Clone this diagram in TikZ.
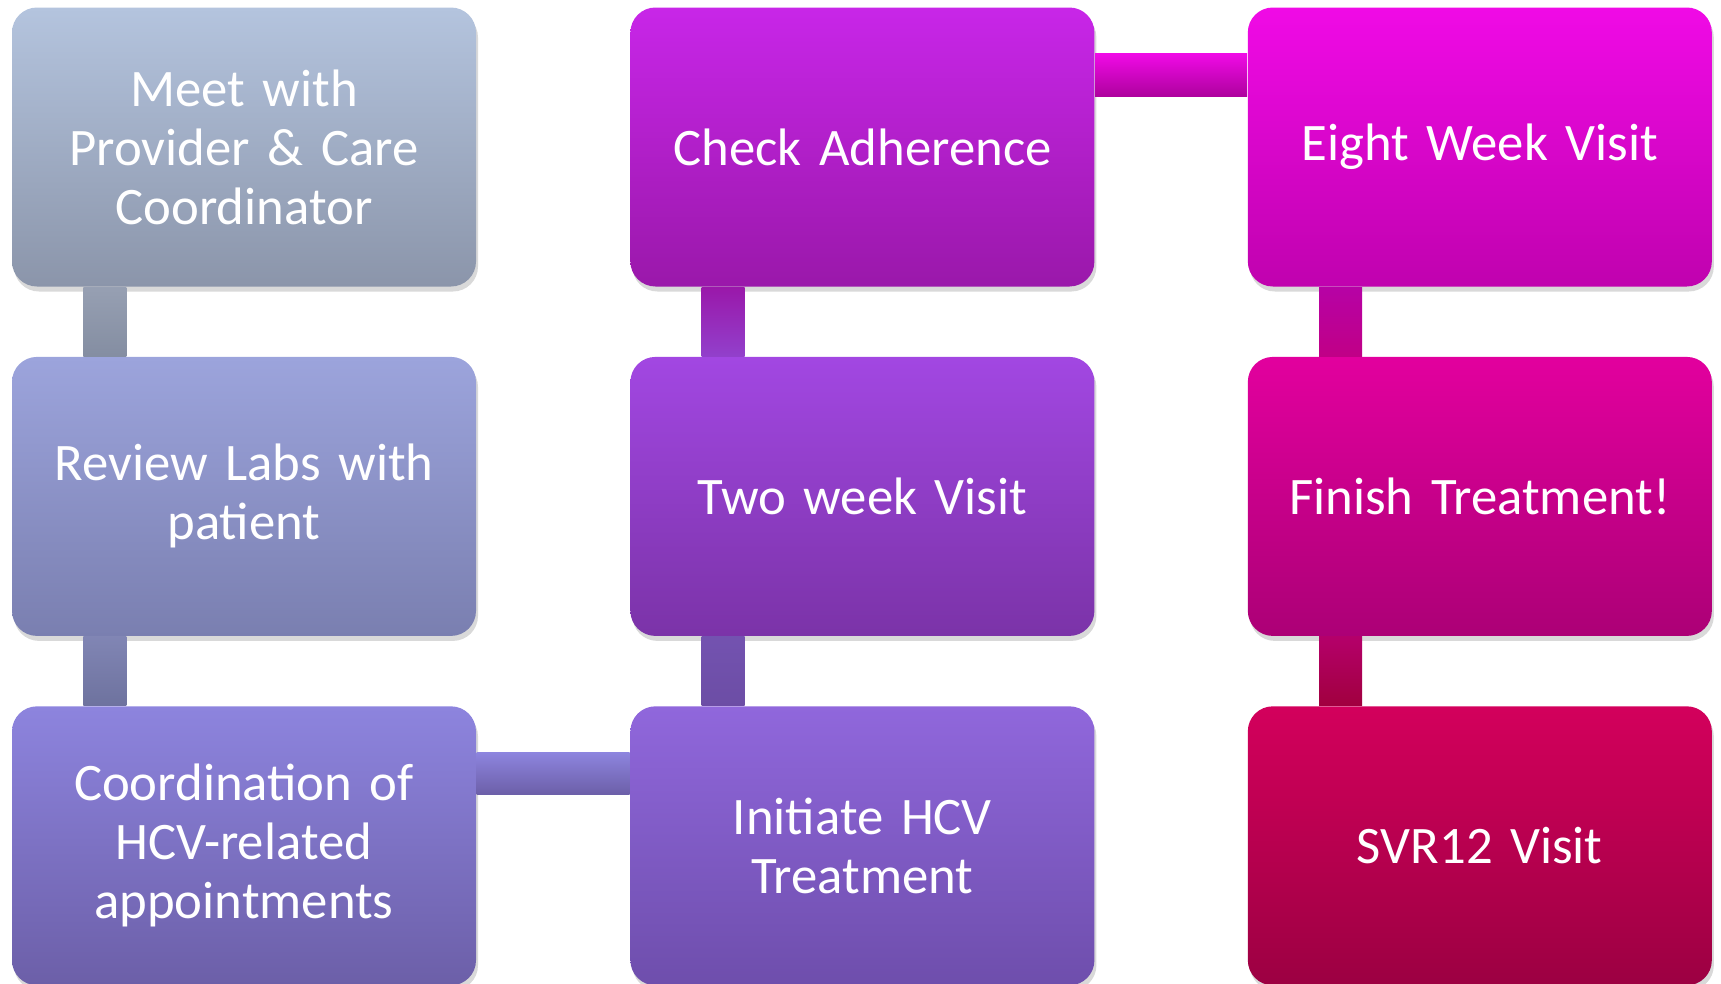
\documentclass[tikz,border=0pt]{standalone}
\usepackage{fontspec}
\setmainfont{Carlito}[WordSpace=0.7]
\usetikzlibrary{positioning,shadows}

\definecolor{meetTop}{HTML}{B4C4DE}
\definecolor{meetBot}{HTML}{8B95AA}
\definecolor{labsTop}{HTML}{9CA4DC}
\definecolor{labsBot}{HTML}{7A7FB0}
\definecolor{coorTop}{HTML}{8D84DE}
\definecolor{coorBot}{HTML}{6C5FA8}
\definecolor{initTop}{HTML}{9067DC}
\definecolor{initBot}{HTML}{6E4EAC}
\definecolor{twowTop}{HTML}{A247E2}
\definecolor{twowBot}{HTML}{7B33A8}
\definecolor{checTop}{HTML}{C826E8}
\definecolor{checBot}{HTML}{9A18AA}
\definecolor{eighTop}{HTML}{F00AE6}
\definecolor{eighBot}{HTML}{C002AE}
\definecolor{finiTop}{HTML}{E2009E}
\definecolor{finiBot}{HTML}{AC0076}
\definecolor{svrTop}{HTML}{D3005C}
\definecolor{svrBot}{HTML}{9C0042}

\tikzset{
  stepbox/.style={rectangle, rounded corners=0.25cm, minimum width=4.64cm,
    minimum height=2.79cm, text width=4.4cm, align=center, text=white,
    font=\fontsize{15}{16.8}\selectfont,
    drop shadow={opacity=0.3, shadow xshift=0.02cm, shadow yshift=-0.05cm}},
  bar/.style={draw=none},
}

\begin{document}
\begin{tikzpicture}
\useasboundingbox (0,0) rectangle (17.21,9.83);

% first column
\node[stepbox, top color=meetTop, bottom color=meetBot] (meet) at (2.44,8.36) {Meet with\\Provider \& Care\\Coordinator};
\node[stepbox, top color=labsTop, bottom color=labsBot, below=0.69cm of meet] (labs) {Review Labs with\\patient};
\node[stepbox, top color=coorTop, bottom color=coorBot, below=0.69cm of labs] (coord) {Coordination of\\HCV-related\\appointments};

% second column
\node[stepbox, top color=initTop, bottom color=initBot, right=1.53cm of coord] (init) {Initiate HCV\\Treatment};
\node[stepbox, top color=twowTop, bottom color=twowBot, right=1.53cm of labs] (twoweek) {Two week Visit};
\node[stepbox, top color=checTop, bottom color=checBot, right=1.53cm of meet] (check) {Check Adherence};

% third column
\node[stepbox, top color=eighTop, bottom color=eighBot, right=1.52cm of check] (eight) {Eight Week Visit};
\node[stepbox, top color=finiTop, bottom color=finiBot, right=1.52cm of twoweek] (finish) {Finish Treatment!};
\node[stepbox, top color=svrTop, bottom color=svrBot, right=1.52cm of init] (svr) {SVR12 Visit};

% connecting bars
\path[bar, top color=meetBot!90!white, bottom color=meetBot!95!black] ([xshift=0.72cm]meet.south west) rectangle ([xshift=1.15cm]labs.north west);
\path[bar, top color=labsBot!95!white, bottom color=labsBot!90!black] ([xshift=0.72cm]labs.south west) rectangle ([xshift=1.15cm]coord.north west);
\path[bar, top color=coorTop, bottom color=coorBot] ([yshift=-0.47cm]coord.north east) rectangle ([yshift=-0.89cm]init.north west);
\path[bar, top color=initTop!80!black, bottom color=initTop!75!black] ([xshift=0.72cm]twoweek.south west) rectangle ([xshift=1.15cm]init.north west);
\path[bar, top color=checBot, bottom color=twowTop!90!black] ([xshift=0.72cm]check.south west) rectangle ([xshift=1.15cm]twoweek.north west);
\path[bar, top color=eighTop, bottom color=eighBot!90!black] ([yshift=-0.47cm]check.north east) rectangle ([yshift=-0.9cm]eight.north west);
\path[bar, top color=eighBot!95!black, bottom color=finiTop!85!black] ([xshift=0.72cm]eight.south west) rectangle ([xshift=1.15cm]finish.north west);
\path[bar, top color=finiBot!90!red, bottom color=svrBot!95!red] ([xshift=0.72cm]finish.south west) rectangle ([xshift=1.15cm]svr.north west);
\end{tikzpicture}
\end{document}
